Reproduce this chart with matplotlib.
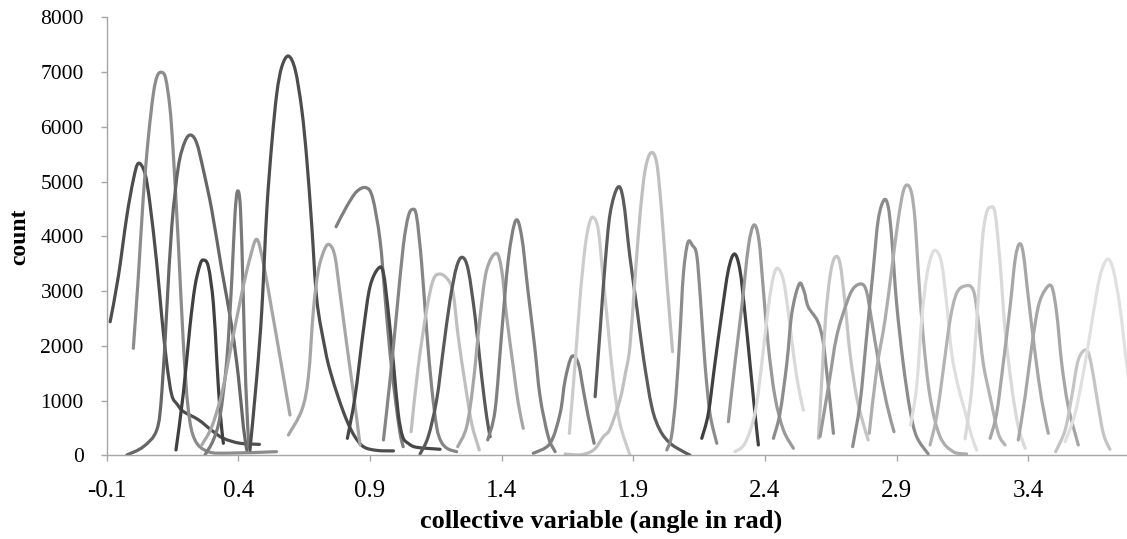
import numpy as np
import matplotlib
matplotlib.use("Agg")
import matplotlib.pyplot as plt
from matplotlib.path import Path
from matplotlib.patches import PathPatch

# umbrella windows, histogram counts (x = angle in rad)
w01_x = [-0.087, -0.056, -0.024, 0.001, 0.020, 0.045, 0.064, 0.090, 0.109, 0.128, 0.147, 0.168, 0.191, 0.248, 0.300, 0.343, 0.406, 0.480]
w01_y = [2440, 3262, 4358, 5028, 5333, 5151, 4603, 3507, 2532, 1680, 1100, 930, 800, 650, 450, 310, 220, 200]
w02_x = [0.001, 0.020, 0.039, 0.058, 0.077, 0.092, 0.109, 0.124, 0.140, 0.152, 0.172, 0.191, 0.210, 0.235, 0.286, 0.368, 0.545]
w02_y = [1954, 3262, 4723, 5800, 6600, 6930, 6995, 6880, 6350, 5575, 3872, 2046, 827, 280, 66, 40, 66]
w03_x = [-0.024, 0.039, 0.090, 0.109, 0.128, 0.147, 0.172, 0.197, 0.219, 0.242, 0.267, 0.299, 0.337, 0.375, 0.400, 0.419, 0.432]
w03_y = [5, 157, 462, 1132, 2654, 4175, 5271, 5728, 5850, 5699, 5211, 4480, 3384, 2349, 1436, 522, 97]
w04_x = [0.163, 0.191, 0.216, 0.235, 0.254, 0.267, 0.286, 0.305, 0.318, 0.330, 0.343]
w04_y = [97, 1132, 2349, 3080, 3476, 3567, 3445, 2776, 1741, 827, 219]
w05_x = [0.273, 0.305, 0.330, 0.356, 0.375, 0.387, 0.397, 0.408, 0.418, 0.428, 0.440]
w05_y = [5, 280, 705, 1741, 3202, 4389, 4827, 4500, 3000, 1300, 150]
w06_x = [0.261, 0.299, 0.337, 0.375, 0.413, 0.444, 0.470, 0.495, 0.527, 0.558, 0.596]
w06_y = [188, 522, 1132, 2046, 2959, 3600, 3945, 3507, 2654, 1801, 736]
w07_x = [0.444, 0.470, 0.489, 0.508, 0.527, 0.546, 0.565, 0.590, 0.616, 0.641, 0.660, 0.679, 0.698, 0.729, 0.748, 0.780, 0.811, 0.840, 0.875, 0.925, 0.989]
w07_y = [97, 1436, 2654, 4480, 5699, 6612, 7098, 7293, 7037, 6307, 5394, 4175, 2836, 1950, 1550, 1050, 645, 360, 157, 90, 80]
w08_x = [0.590, 0.641, 0.666, 0.685, 0.704, 0.729, 0.748, 0.767, 0.786, 0.811, 0.837, 0.862]
w08_y = [371, 827, 1436, 2654, 3384, 3781, 3841, 3627, 2959, 2046, 1132, 188]
w09_x = [0.771, 0.811, 0.849, 0.885, 0.910, 0.938, 0.957, 0.976, 0.995, 1.014, 1.026]
w09_y = [4175, 4541, 4815, 4888, 4700, 3932, 2897, 1863, 1070, 402, 157]
w10_x = [0.814, 0.843, 0.875, 0.900, 0.932, 0.951, 0.970, 0.989, 1.007, 1.024, 1.045, 1.077, 1.166]
w10_y = [310, 1070, 2289, 3080, 3416, 3324, 2594, 1680, 767, 340, 219, 146, 110]
w11_x = [0.951, 0.976, 1.001, 1.026, 1.045, 1.062, 1.077, 1.096, 1.115, 1.134, 1.153, 1.170, 1.195, 1.229]
w11_y = [280, 1375, 2594, 3810, 4358, 4493, 4358, 3507, 2289, 1253, 522, 250, 120, 66]
w12_x = [1.056, 1.083, 1.115, 1.140, 1.166, 1.197, 1.216, 1.235, 1.261, 1.286, 1.315]
w12_y = [431, 1618, 2654, 3202, 3311, 3202, 2959, 2166, 1315, 584, 97]
w13_x = [1.090, 1.121, 1.153, 1.178, 1.204, 1.229, 1.251, 1.273, 1.299, 1.324, 1.343, 1.356]
w13_y = [24, 340, 1010, 1923, 2836, 3445, 3616, 3384, 2532, 1436, 705, 340]
w14_x = [1.233, 1.267, 1.292, 1.318, 1.343, 1.379, 1.400, 1.419, 1.444, 1.463, 1.482]
w14_y = [157, 522, 1315, 2532, 3384, 3690, 3384, 2532, 1618, 950, 493]
w15_x = [1.347, 1.375, 1.400, 1.425, 1.453, 1.476, 1.500, 1.525, 1.546, 1.577, 1.603]
w15_y = [280, 827, 2228, 3567, 4285, 3993, 3000, 2000, 1070, 340, 66]
w16_x = [1.520, 1.584, 1.622, 1.641, 1.666, 1.691, 1.710, 1.729, 1.751]
w16_y = [36, 219, 767, 1375, 1801, 1680, 1193, 705, 219]
w17_x = [1.657, 1.679, 1.698, 1.717, 1.733, 1.748, 1.767, 1.786, 1.805, 1.824, 1.849, 1.887]
w17_y = [401, 1680, 2897, 3810, 4237, 4347, 4115, 3202, 2289, 1375, 584, 5]
w18_x = [1.755, 1.774, 1.793, 1.812, 1.841, 1.862, 1.887, 1.913, 1.938, 1.970, 2.001, 2.040, 2.090, 2.115]
w18_y = [1070, 2289, 3507, 4420, 4895, 4663, 3627, 2714, 1801, 888, 462, 219, 66, 5]
w19_x = [1.641, 1.700, 1.750, 1.786, 1.811, 1.849, 1.870, 1.887, 1.906, 1.926, 1.945, 1.967, 1.989, 2.008, 2.027, 2.049]
w19_y = [24, 10, 100, 340, 480, 1010, 1500, 1984, 3202, 4420, 5211, 5527, 5333, 4420, 3202, 1893]
w20_x = [2.027, 2.045, 2.062, 2.077, 2.090, 2.107, 2.125, 2.141, 2.155, 2.172, 2.191, 2.217]
w20_y = [97, 350, 1100, 2200, 3300, 3884, 3830, 3650, 2850, 1680, 767, 219]
w21_x = [2.160, 2.185, 2.210, 2.236, 2.261, 2.284, 2.305, 2.324, 2.343, 2.362, 2.375]
w21_y = [310, 767, 1680, 2594, 3384, 3677, 3384, 2594, 1680, 767, 188]
w22_x = [2.261, 2.286, 2.312, 2.337, 2.358, 2.377, 2.394, 2.413, 2.438, 2.470, 2.508]
w22_y = [614, 1680, 2714, 3810, 4207, 3932, 3019, 1984, 1070, 462, 128]
w23_x = [2.286, 2.324, 2.362, 2.388, 2.413, 2.432, 2.448, 2.470, 2.489, 2.508, 2.527, 2.546]
w23_y = [66, 219, 767, 1680, 2714, 3262, 3415, 3202, 2594, 1863, 1253, 827]
w24_x = [2.432, 2.457, 2.483, 2.502, 2.530, 2.549, 2.564, 2.600, 2.620, 2.635, 2.648, 2.660]
w24_y = [310, 767, 1680, 2594, 3129, 2988, 2714, 2450, 2100, 1500, 950, 401]
w25_x = [2.603, 2.615, 2.630, 2.648, 2.666, 2.685, 2.704, 2.723, 2.748, 2.773, 2.792]
w25_y = [310, 1300, 2500, 3300, 3616, 3507, 2776, 1863, 1070, 584, 280]
w26_x = [2.609, 2.641, 2.672, 2.710, 2.736, 2.767, 2.786, 2.805, 2.830, 2.862, 2.890]
w26_y = [340, 1253, 2166, 2776, 3050, 3129, 2988, 2471, 1741, 950, 431]
w27_x = [2.733, 2.761, 2.786, 2.811, 2.830, 2.852, 2.868, 2.881, 2.900, 2.925, 2.951, 2.976, 3.020]
w27_y = [157, 950, 2166, 3384, 4298, 4663, 4541, 3993, 2776, 1680, 827, 340, 24]
w28_x = [2.796, 2.824, 2.856, 2.881, 2.906, 2.925, 2.941, 2.957, 2.970, 2.982, 3.001, 3.027, 3.065, 3.115, 3.166]
w28_y = [401, 1558, 2471, 3384, 4298, 4815, 4937, 4785, 4298, 3384, 2166, 1070, 340, 66, 24]
w29_x = [2.953, 2.976, 2.995, 3.014, 3.033, 3.050, 3.071, 3.090, 3.109, 3.134, 3.160, 3.185, 3.204]
w29_y = [553, 1253, 2471, 3262, 3658, 3737, 3507, 2776, 1863, 1253, 800, 350, 97]
w30_x = [3.027, 3.052, 3.077, 3.103, 3.128, 3.160, 3.191, 3.210, 3.229, 3.255, 3.286, 3.312]
w30_y = [188, 705, 1558, 2471, 2959, 3093, 3019, 2471, 1680, 1070, 401, 188]
w31_x = [3.160, 3.185, 3.205, 3.225, 3.240, 3.255, 3.274, 3.293, 3.312, 3.337, 3.362, 3.388]
w31_y = [300, 1200, 2500, 3900, 4400, 4530, 4420, 3507, 2289, 1253, 522, 128]
w32_x = [3.255, 3.280, 3.305, 3.331, 3.350, 3.366, 3.381, 3.400, 3.426, 3.451, 3.476]
w32_y = [310, 767, 1680, 2714, 3567, 3860, 3690, 2897, 1863, 1010, 401]
w33_x = [3.362, 3.388, 3.413, 3.438, 3.464, 3.489, 3.508, 3.527, 3.552, 3.590]
w33_y = [280, 1070, 1984, 2714, 3019, 3080, 2594, 1680, 888, 188]
w34_x = [3.504, 3.540, 3.565, 3.590, 3.622, 3.641, 3.660, 3.685, 3.710]
w34_y = [66, 462, 1070, 1741, 1923, 1618, 1070, 401, 110]
w35_x = [3.540, 3.578, 3.616, 3.647, 3.672, 3.700, 3.723, 3.748, 3.775, 3.800]
w35_y = [249, 767, 1680, 2594, 3262, 3580, 3384, 2714, 1618, 800]

windows = [
    (w01_x, w01_y, "#4d4d4d"), (w02_x, w02_y, "#8c8c8c"), (w03_x, w03_y, "#666666"),
    (w04_x, w04_y, "#404040"), (w05_x, w05_y, "#7a7a7a"), (w06_x, w06_y, "#a6a6a6"),
    (w07_x, w07_y, "#4d4d4d"), (w08_x, w08_y, "#a6a6a6"), (w09_x, w09_y, "#7f7f7f"),
    (w10_x, w10_y, "#474747"), (w11_x, w11_y, "#858585"), (w12_x, w12_y, "#bfbfbf"),
    (w13_x, w13_y, "#595959"), (w14_x, w14_y, "#a6a6a6"), (w15_x, w15_y, "#808080"),
    (w16_x, w16_y, "#808080"), (w17_x, w17_y, "#cccccc"), (w18_x, w18_y, "#5c5c5c"),
    (w19_x, w19_y, "#bfbfbf"), (w20_x, w20_y, "#8c8c8c"), (w21_x, w21_y, "#404040"),
    (w22_x, w22_y, "#999999"), (w23_x, w23_y, "#d9d9d9"), (w24_x, w24_y, "#8c8c8c"),
    (w25_x, w25_y, "#c4c4c4"), (w26_x, w26_y, "#999999"), (w27_x, w27_y, "#8c8c8c"),
    (w28_x, w28_y, "#adadad"), (w29_x, w29_y, "#dedede"), (w30_x, w30_y, "#b3b3b3"),
    (w31_x, w31_y, "#d9d9d9"), (w32_x, w32_y, "#a6a6a6"), (w33_x, w33_y, "#a6a6a6"),
    (w34_x, w34_y, "#c4c4c4"), (w35_x, w35_y, "#e0e0e0"),
]

x_ticks = [-0.1, 0.4, 0.9, 1.4, 1.9, 2.4, 2.9, 3.4]
x_tick_labels = ["-0.1", "0.4", "0.9", "1.4", "1.9", "2.4", "2.9", "3.4"]
y_ticks = [0, 1000, 2000, 3000, 4000, 5000, 6000, 7000, 8000]


def smooth_path(x, y):
    # excel style "smoothed line": catmull-rom segments as cubic beziers
    pts = np.column_stack([x, y]).astype(float)
    n = len(pts)
    verts = [pts[0]]
    codes = [Path.MOVETO]
    for i in range(n - 1):
        p0 = pts[i - 1] if i > 0 else pts[i]
        p1 = pts[i]
        p2 = pts[i + 1]
        p3 = pts[i + 2] if i + 2 < n else pts[i + 1]
        verts += [p1 + (p2 - p0) / 6, p2 - (p3 - p1) / 6, p2]
        codes += [Path.CURVE4] * 3
    return Path(verts, codes)


plt.rcParams['font.family'] = ['Liberation Serif', 'DejaVu Serif']

fig = plt.figure(figsize=(11.27, 5.39), dpi=100)
ax = fig.add_axes([0.0947, 0.1553, 0.9053, 0.8126])

for xs, ys, col in windows:
    ax.add_patch(PathPatch(smooth_path(xs, ys), fill=False, edgecolor=col,
                           lw=2.3, capstyle='round', joinstyle='round'))

ax.set_xlim(-0.1, 3.775)
ax.set_ylim(0, 8000)
ax.set_xticks(x_ticks)
ax.set_xticklabels(x_tick_labels)
ax.set_yticks(y_ticks)

for s in ['top', 'right']:
    ax.spines[s].set_visible(False)
for s in ['left', 'bottom']:
    ax.spines[s].set_color('#a6a6a6')
    ax.spines[s].set_linewidth(1.0)

ax.tick_params(axis='x', length=4.5, width=1, color='#a6a6a6', labelsize=18, pad=13)
ax.tick_params(axis='y', length=4.5, width=1, color='#a6a6a6', labelsize=15.5, pad=12)

ax.set_xlabel("collective variable (angle in rad)", fontsize=19, fontweight='bold', va='center')
ax.xaxis.set_label_coords(0.4845, -0.150)
ax.set_ylabel("count", fontsize=17, fontweight='bold', va='center')
ax.yaxis.set_label_coords(-0.085, 0.498)

fig.savefig("out.png", dpi=100)
